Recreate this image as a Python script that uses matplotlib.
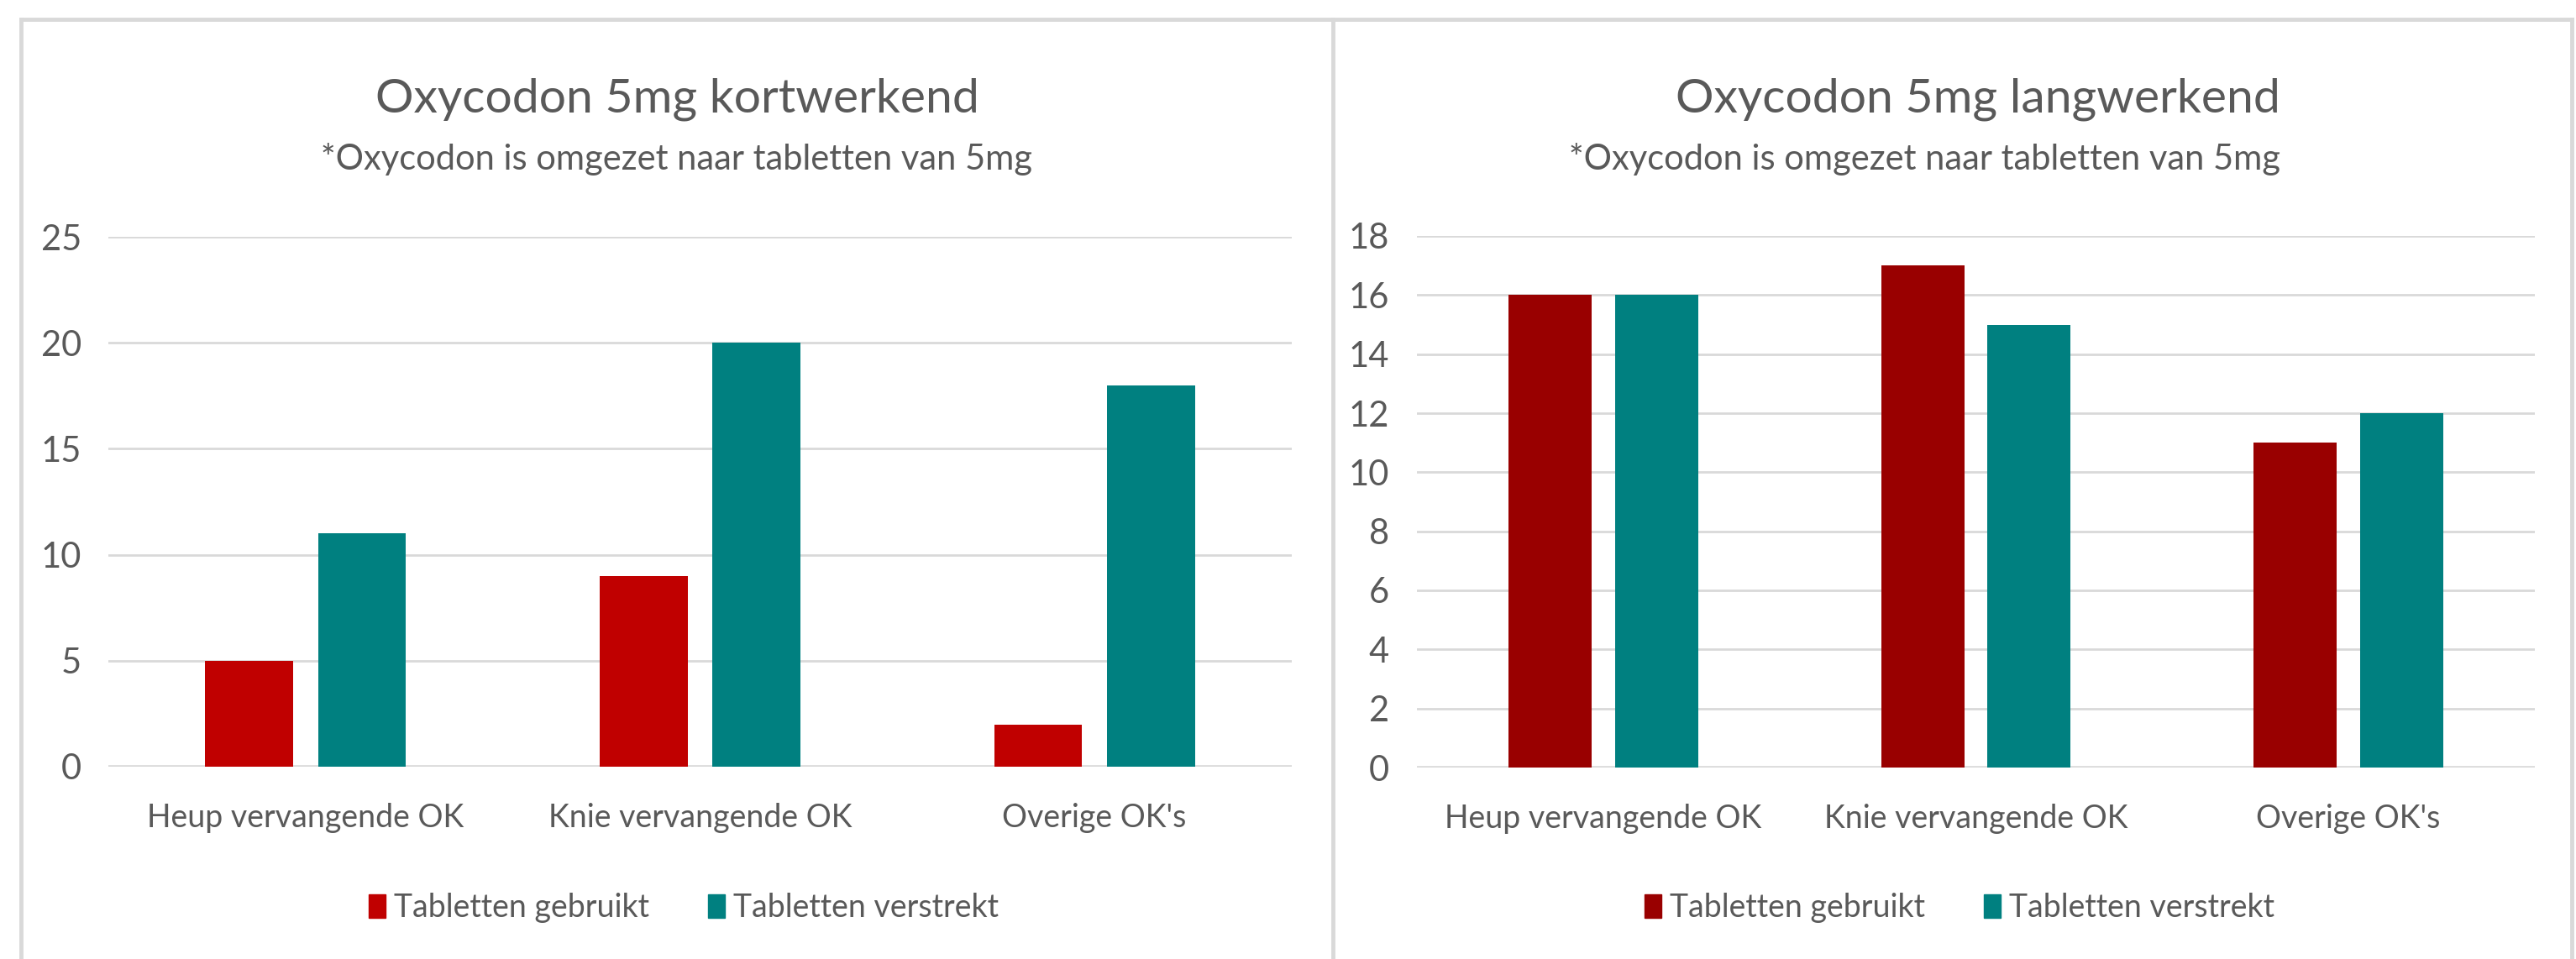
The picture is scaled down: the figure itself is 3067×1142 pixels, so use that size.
import matplotlib
matplotlib.use("Agg")
import matplotlib.pyplot as plt
from matplotlib.lines import Line2D
from matplotlib.patches import Patch
import numpy as np

categories = ["Heup vervangende OK", "Knie vervangende OK", "Overige OK's"]
series_names = ["Tabletten gebruikt", "Tabletten verstrekt"]

kort_gebruikt = [5, 9, 2]
kort_verstrekt = [11, 20, 18]
lang_gebruikt = [16, 17, 11]
lang_verstrekt = [16, 15, 12]

kort_ticks = [0, 5, 10, 15, 20, 25]
lang_ticks = [0, 2, 4, 6, 8, 10, 12, 14, 16, 18]

titles = ["Oxycodon 5mg kortwerkend", "Oxycodon 5mg langwerkend"]
subtitle = "*Oxycodon is omgezet naar tabletten van 5mg"

TEXT = "#595959"
GRID = "#D9D9D9"
TEAL = "#008080"

plt.rcParams['font.family'] = ['Lato', 'DejaVu Sans']

W, H = 3067, 1142
fig = plt.figure(figsize=(W / 100, H / 100), dpi=100)


def fx(px):
    return px / W


def fy(py):
    return 1 - py / H


def panel(x0, x1, y0, y1, gebruikt, verstrekt, ticks, red, pad):
    ax = fig.add_axes([fx(x0), fy(y0), fx(x1 - x0), fy(y1) - fy(y0)])
    x = np.arange(len(categories))
    ax.bar(x - 0.143, gebruikt, 0.223, color=red, zorder=3)
    ax.bar(x + 0.143, verstrekt, 0.223, color=TEAL, zorder=3)
    ax.set_xlim(-0.5, len(categories) - 0.5)
    ax.set_ylim(0, ticks[-1])
    ax.set_yticks(ticks)
    ax.set_xticks(x)
    ax.set_xticklabels(categories)
    for s in ax.spines.values():
        s.set_visible(False)
    ax.grid(axis='y', color=GRID, linewidth=2, zorder=0)
    ax.axhline(0, color=GRID, linewidth=2.6, zorder=2)
    ax.tick_params(axis='y', length=0, pad=pad, labelsize=30, labelcolor=TEXT)
    ax.tick_params(axis='x', length=0, pad=31, labelsize=27, labelcolor=TEXT)
    return ax


panel(129, 1538, 913, 282, kort_gebruikt, kort_verstrekt, kort_ticks, "#C00000", 23)
panel(1687, 3018, 914, 281, lang_gebruikt, lang_verstrekt, lang_ticks, "#990000", 24)

# titles
fig.text(fx(806), fy(133), titles[0], ha='center', va='baseline', fontsize=41, color=TEXT)
fig.text(fx(806), fy(202), subtitle, ha='center', va='baseline', fontsize=30, color=TEXT)
fig.text(fx(2715), fy(133), titles[1], ha='right', va='baseline', fontsize=41, color=TEXT)
fig.text(fx(2715), fy(202), subtitle, ha='right', va='baseline', fontsize=30, color=TEXT)

# legends
for cx, red in [(814, "#C00000"), (2333, "#990000")]:
    handles = [Patch(color=red), Patch(color=TEAL)]
    fig.legend(handles, series_names, loc='center', bbox_to_anchor=(fx(cx), fy(1081)),
               ncol=2, frameon=False, fontsize=27, labelcolor=TEXT,
               handlelength=0.53, handleheight=0.77, handletextpad=0.27,
               columnspacing=1.87)

# panel borders
for xs, ys in [([25, 3062], [23, 23]), ([25, 25], [23, H]), ([1587, 1587], [23, H]),
               ([3062, 3062], [23, H])]:
    fig.add_artist(Line2D([fx(v) for v in xs], [fy(v) for v in ys], color=GRID, linewidth=3.5))

fig.savefig("out.png", dpi=100)
